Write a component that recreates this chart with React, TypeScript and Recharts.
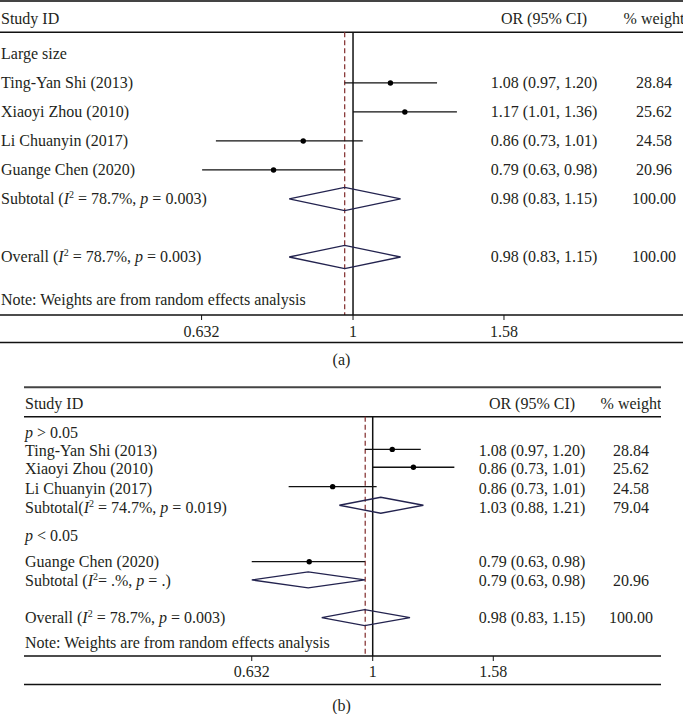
import React from 'react';
import { ComposedChart, XAxis, YAxis, Scatter, ReferenceLine } from 'recharts';

const FONT = '"Liberation Serif", "Times New Roman", serif';
const INK = '#231f20';

// ---------- panel (a) ----------
const aRowLabels = [
  'Study ID',
  'Large size',
  'Ting-Yan Shi (2013)',
  'Xiaoyi Zhou (2010)',
  'Li Chuanyin (2017)',
  'Guange Chen (2020)',
  'Subtotal (I² = 78.7%, p = 0.003)',
  'Overall (I² = 78.7%, p = 0.003)',
  'Note: Weights are from random effects analysis',
];
const aRowPos = [-0.22, 1, 2, 3, 4, 5, 6, 8, 9.48];
const aRowOR = ['OR (95% CI)', '', '1.08 (0.97, 1.20)', '1.17 (1.01, 1.36)', '0.86 (0.73, 1.01)', '0.79 (0.63, 0.98)', '0.98 (0.83, 1.15)', '0.98 (0.83, 1.15)', ''];
const aRowWeight = ['% weight', '', '28.84', '25.62', '24.58', '20.96', '100.00', '100.00', ''];

const aStudyRow = [2, 3, 4, 5];
const aStudyEst = [1.12, 1.17, 0.86, 0.786];
const aStudyLow = [0.975, 1.0, 0.66, 0.633];
const aStudyHigh = [1.29, 1.37, 1.03, 0.975];

const aPoolRow = [6, 8];
const aPoolEst = [0.975, 0.975];
const aPoolLow = [0.824, 0.824];
const aPoolHigh = [1.155, 1.155];
const aOverall = 0.975;

// ---------- panel (b) ----------
const bRowLabels = [
  'Study ID',
  'p > 0.05',
  'Ting-Yan Shi (2013)',
  'Xiaoyi Zhou (2010)',
  'Li Chuanyin (2017)',
  'Subtotal(I² = 74.7%, p = 0.019)',
  'p < 0.05',
  'Guange Chen (2020)',
  'Subtotal (I²= .%, p = .)',
  'Overall (I² = 78.7%, p = 0.003)',
  'Note: Weights are from random effects analysis',
];
const bRowPos = [-0.63, 0.9, 1.87, 2.84, 3.87, 4.87, 6.32, 7.72, 8.71, 10.65, 11.95];
const bRowOR = ['OR (95% CI)', '', '1.08 (0.97, 1.20)', '0.86 (0.73, 1.01)', '0.86 (0.73, 1.01)', '1.03 (0.88, 1.21)', '', '0.79 (0.63, 0.98)', '0.79 (0.63, 0.98)', '0.98 (0.83, 1.15)', ''];
const bRowWeight = ['% weight', '', '28.84', '25.62', '24.58', '79.04', '', '', '20.96', '100.00', ''];

const bStudyRow = [1.81, 2.75, 3.77, 7.72];
const bStudyEst = [1.077, 1.167, 0.859, 0.786];
const bStudyLow = [0.971, 1.0, 0.727, 0.632];
const bStudyHigh = [1.2, 1.363, 1.015, 0.971];

const bPoolRow = [4.75, 8.68, 10.66];
const bPoolEst = [1.031, 0.783, 0.97];
const bPoolLow = [0.881, 0.632, 0.824];
const bPoolHigh = [1.212, 0.971, 1.152];
const bOverall = 0.972;

const xTicks = [0.632, 1, 1.58];

// layout of each panel (pixels / row units)
const panelA = {
  caption: '(a)', captionTop: 351,
  top: 0, height: 346, xAxisHeight: 31, margin: { top: 0, right: 0, bottom: 0, left: 0 },
  xDomain: [0.3431, 2.718], yDomain: [-0.86, 10.0],
  ruleTop: -0.826, ruleHeader: 0.254, ruleBottom: 10.95,
  labelX: 1, orX: 544, weightX: 654, half: 0.4, tickMargin: 6,
  labels: aRowLabels, rows: aRowPos, ors: aRowOR, weights: aRowWeight,
  studyRow: aStudyRow, studyEst: aStudyEst, studyLow: aStudyLow, studyHigh: aStudyHigh,
  poolRow: aPoolRow, poolEst: aPoolEst, poolLow: aPoolLow, poolHigh: aPoolHigh,
  overall: aOverall,
};

const panelB = {
  caption: '(b)', captionTop: 697,
  top: 384, height: 306, xAxisHeight: 34, margin: { top: 0, right: 22, bottom: 0, left: 24 },
  xDomain: [0.2664, 2.985], yDomain: [-1.632, 12.684],
  ruleTop: -1.458, ruleHeader: 0.089, ruleBottom: 14.18,
  labelX: 25, orX: 532, weightX: 631, half: 0.42, tickMargin: 5,
  labels: bRowLabels, rows: bRowPos, ors: bRowOR, weights: bRowWeight,
  studyRow: bStudyRow, studyEst: bStudyEst, studyLow: bStudyLow, studyHigh: bStudyHigh,
  poolRow: bPoolRow, poolEst: bPoolEst, poolLow: bPoolLow, poolHigh: bPoolHigh,
  overall: bOverall,
};

// italic I with superscript 2, italic p
function richText(s: string) {
  const parts = s.split(/(I²|\bp\b)/);
  const out: React.ReactNode[] = [];
  let shift = 0;
  parts.forEach((part, i) => {
    if (!part) return;
    if (part === 'I²') {
      out.push(<tspan key={i + 'i'} fontStyle="italic" dy={shift || undefined}>I</tspan>);
      out.push(<tspan key={i + 's'} dy={-6} fontSize={10}>2</tspan>);
      shift = 6;
    } else if (part === 'p') {
      out.push(<tspan key={i} fontStyle="italic" dy={shift || undefined}>p</tspan>);
      shift = 0;
    } else {
      out.push(<tspan key={i} dy={shift || undefined}>{part}</tspan>);
      shift = 0;
    }
  });
  return out;
}

// one table row of text, placed vertically by the chart's y scale
const makeRowShape = (panel: any) => (props: any) => {
  const p = props.payload || props;
  const i = p.i;
  if (i == null || props.cy == null) return <g />;
  const base = props.cy + 5.5;
  const style = { fontFamily: FONT, fontSize: 16, fill: INK };
  return (
    <g>
      <text x={panel.labelX} y={base} textAnchor="start" {...style}>{richText(panel.labels[i])}</text>
      <text x={panel.orX} y={base} textAnchor="middle" {...style}>{panel.ors[i]}</text>
      <text x={panel.weightX} y={base} textAnchor="middle" {...style}>{panel.weights[i]}</text>
    </g>
  );
};

const StudyDot = (props: any) => <circle cx={props.cx} cy={props.cy} r={2.7} fill="#000" />;
const NoShape = () => <g />;

function ForestPanel({ panel }: { panel: typeof panelA }) {
  const textRows = panel.rows.map((r, i) => ({ x: 1, y: r, i }));
  const points = panel.studyRow.map((r, i) => ({ x: panel.studyEst[i], y: r }));
  const diamonds = panel.poolRow.map((r, i) => [
    { x: panel.poolLow[i], y: r },
    { x: panel.poolEst[i], y: r - panel.half },
    { x: panel.poolHigh[i], y: r },
    { x: panel.poolEst[i], y: r + panel.half },
    { x: panel.poolLow[i], y: r },
  ]);
  const yMax = panel.yDomain[1];
  return (
    <div style={{ position: 'absolute', left: 0, top: panel.top }}>
      <ComposedChart width={683} height={panel.height} margin={panel.margin}>
        <XAxis
          type="number"
          dataKey="x"
          scale="log"
          domain={panel.xDomain}
          allowDataOverflow
          ticks={xTicks}
          interval={0}
          height={panel.xAxisHeight}
          tickSize={5}
          tickMargin={panel.tickMargin}
          axisLine={{ stroke: '#111', strokeWidth: 1.5 }}
          tickLine={{ stroke: '#111', strokeWidth: 1 }}
          tick={{ fontFamily: FONT, fontSize: 16, fill: INK }}
        />
        <YAxis type="number" dataKey="y" domain={panel.yDomain} allowDataOverflow reversed hide />
        <ReferenceLine y={panel.ruleTop} stroke="#444" strokeWidth={2} ifOverflow="visible" />
        <ReferenceLine y={panel.ruleHeader} stroke="#111" strokeWidth={1.5} ifOverflow="visible" />
        <ReferenceLine y={panel.ruleBottom} stroke="#111" strokeWidth={1.5} ifOverflow="visible" />
        <ReferenceLine
          segment={[{ x: 1, y: panel.ruleHeader }, { x: 1, y: yMax }]}
          stroke="#111"
          strokeWidth={1.5}
          ifOverflow="visible"
        />
        <ReferenceLine
          segment={[{ x: panel.overall, y: panel.ruleHeader }, { x: panel.overall, y: yMax }]}
          stroke="#8a3b3b"
          strokeWidth={1.3}
          strokeDasharray="5 3"
          ifOverflow="visible"
        />
        {panel.studyRow.map((r, i) => (
          <ReferenceLine
            key={'ci' + i}
            segment={[{ x: panel.studyLow[i], y: r }, { x: panel.studyHigh[i], y: r }]}
            stroke="#111"
            strokeWidth={1.3}
            ifOverflow="visible"
          />
        ))}
        {diamonds.map((d, i) => (
          <Scatter
            key={'dm' + i}
            data={d}
            line={{ stroke: '#23234f', strokeWidth: 1.3 }}
            lineType="joint"
            shape={NoShape}
            isAnimationActive={false}
          />
        ))}
        <Scatter data={points} shape={StudyDot} isAnimationActive={false} />
        <Scatter data={textRows} shape={makeRowShape(panel)} isAnimationActive={false} />
      </ComposedChart>
      <div
        style={{
          position: 'absolute',
          left: 0,
          width: 683,
          top: panel.captionTop - panel.top,
          textAlign: 'center',
          fontFamily: FONT,
          fontSize: 16,
          lineHeight: '18px',
          color: INK,
        }}
      >
        {panel.caption}
      </div>
    </div>
  );
}

export default function App() {
  return (
    <div style={{ position: 'absolute', left: 0, top: 0, width: 683, height: 714, background: '#fff' }}>
      <ForestPanel panel={panelA} />
      <ForestPanel panel={panelB} />
    </div>
  );
}
